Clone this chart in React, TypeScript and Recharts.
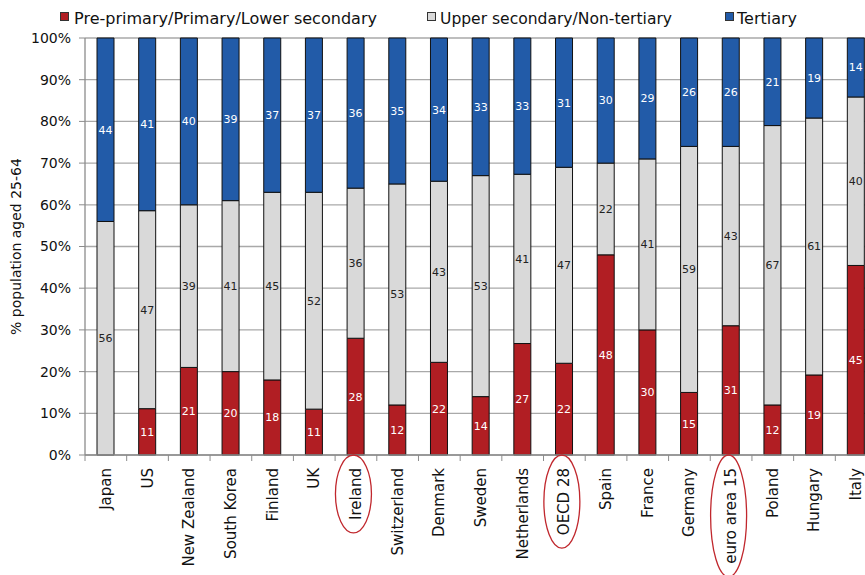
import React from 'react';
import { BarChart, Bar, XAxis, YAxis, CartesianGrid, Legend, LabelList } from 'recharts';

// ---------- data ----------
const countries = [
  'Japan', 'US', 'New Zealand', 'South Korea', 'Finland', 'UK', 'Ireland', 'Switzerland',
  'Denmark', 'Sweden', 'Netherlands', 'OECD 28', 'Spain', 'France', 'Germany',
  'euro area 15', 'Poland', 'Hungary', 'Italy',
];
const lowerSecondary = [0, 11, 21, 20, 18, 11, 28, 12, 22, 14, 27, 22, 48, 30, 15, 31, 12, 19, 45];
const upperSecondary = [56, 47, 39, 41, 45, 52, 36, 53, 43, 53, 41, 47, 22, 41, 59, 43, 67, 61, 40];
const tertiary = [44, 41, 40, 39, 37, 37, 36, 35, 34, 33, 33, 31, 30, 29, 26, 26, 21, 19, 14];
const seriesNames = ['Pre-primary/Primary/Lower secondary', 'Upper secondary/Non-tertiary', 'Tertiary'];
const highlighted = ['Ireland', 'OECD 28', 'euro area 15'];
const yTicks = [0, 0.1, 0.2, 0.3, 0.4, 0.5, 0.6, 0.7, 0.8, 0.9, 1];
const yAxisTitle = '% population  aged 25-64';

const data = countries.map((c, i) => ({
  country: c,
  low: lowerSecondary[i],
  mid: upperSecondary[i],
  high: tertiary[i],
}));

// ---------- layout / style ----------
const FONT = "'DejaVu Sans', Verdana, sans-serif";
const W = 882;
const H = 575;
const Y_AXIS_W = 85;
const RIGHT = 5;
const TOP = 38;
const X_AXIS_H = 120;
const BAND = (W - Y_AXIS_W - RIGHT) / countries.length;
const RED = '#B11E23';
const GRAY = '#D9D9D9';
const BLUE = '#225BA8';
const AXIS = '#8c8c8c';

const legendLayout = [
  { color: RED, box: 60, textX: 74, len: 303 },
  { color: GRAY, box: 427, textX: 440, len: 232 },
  { color: BLUE, box: 725, textX: 737, len: 60 },
];

let measureCtx: CanvasRenderingContext2D | null = null;
const measure = (s: string, font: string) => {
  if (!measureCtx) measureCtx = document.createElement('canvas').getContext('2d');
  if (!measureCtx) return s.length * 8;
  measureCtx.font = font;
  return measureCtx.measureText(s).width;
};

const XTick = (props: any) => {
  const { x, y, payload, index } = props;
  const label = String(payload.value);
  const len = measure(label, `15px 'DejaVu Sans'`);
  const top = 13;
  return (
    <g>
      <line x1={x - BAND / 2} x2={x - BAND / 2} y1={y} y2={y + 6} stroke={AXIS} strokeWidth={1} />
      {index === countries.length - 1 && (
        <line x1={x + BAND / 2} x2={x + BAND / 2} y1={y} y2={y + 6} stroke={AXIS} strokeWidth={1} />
      )}
      <text
        transform={`translate(${x + 5},${y + top}) rotate(-90)`}
        textAnchor="end"
        fontSize={15}
        fontFamily={FONT}
        fill="#111"
      >
        {label}
      </text>
      {highlighted.includes(label) && (
        <ellipse
          cx={x - 2.5}
          cy={y + top + len / 2}
          rx={18}
          ry={len / 2 + 13}
          fill="none"
          stroke="#C0272D"
          strokeWidth={1.3}
        />
      )}
    </g>
  );
};

const LegendContent = () => (
  <svg width={865} height={32} style={{ display: 'block' }}>
    {legendLayout.map((l, i) => (
      <g key={seriesNames[i]}>
        <rect x={l.box + 0.5} y={12.5} width={8} height={8} fill={l.color} stroke="#333" strokeWidth={1} />
        <text
          x={l.textX}
          y={24}
          fontSize={16}
          fontFamily={FONT}
          fill="#111"
          textLength={l.len}
          lengthAdjust="spacingAndGlyphs"
        >
          {seriesNames[i]}
        </text>
      </g>
    ))}
  </svg>
);

const YTitle = () => (
  <text
    transform={`translate(21,${TOP + (H - X_AXIS_H - TOP) / 2}) rotate(-90)`}
    textAnchor="middle"
    fontSize={14}
    fontFamily={FONT}
    fill="#111"
  >
    {yAxisTitle}
  </text>
);

const fmtLabel = (v: any) => (v ? v : '');

export default function App() {
  return (
    <div
      style={{
        position: 'fixed',
        left: 0,
        top: 0,
        width: 865,
        height: 575,
        overflow: 'hidden',
        background: '#fff',
      }}
    >
      <BarChart
        width={W}
        height={H}
        data={data}
        stackOffset="expand"
        barSize={17}
        margin={{ top: TOP, right: RIGHT, bottom: 0, left: 0 }}
      >
        <CartesianGrid vertical={false} stroke="#a9a9a9" strokeWidth={1.3} />
        <XAxis
          dataKey="country"
          interval={0}
          height={X_AXIS_H}
          tickLine={false}
          tickSize={0}
          tickMargin={0}
          axisLine={{ stroke: AXIS, strokeWidth: 1.3 }}
          tick={<XTick />}
        />
        <YAxis
          width={Y_AXIS_W}
          domain={[0, 1]}
          ticks={yTicks}
          interval={0}
          tickFormatter={(v: number) => `${Math.round(v * 100)}%`}
          tickSize={6}
          tickMargin={8}
          tickLine={{ stroke: AXIS }}
          axisLine={{ stroke: AXIS, strokeWidth: 1.3 }}
          tick={{ fontSize: 14, fontFamily: FONT, fill: '#111' }}
          label={<YTitle />}
        />
        <Legend
          verticalAlign="middle"
          align="center"
          layout="horizontal"
          wrapperStyle={{ top: 0, left: 0, width: 865, height: 32 }}
          content={<LegendContent />}
        />
        <Bar dataKey="low" name={seriesNames[0]} stackId="a" fill={RED} stroke="#111" strokeWidth={1} isAnimationActive={false}>
          <LabelList dataKey="low" position="center" formatter={fmtLabel} fill="#fff" fontSize={11} fontFamily={FONT} />
        </Bar>
        <Bar dataKey="mid" name={seriesNames[1]} stackId="a" fill={GRAY} stroke="#111" strokeWidth={1} isAnimationActive={false}>
          <LabelList dataKey="mid" position="center" formatter={fmtLabel} fill="#222" fontSize={11} fontFamily={FONT} />
        </Bar>
        <Bar dataKey="high" name={seriesNames[2]} stackId="a" fill={BLUE} stroke="#111" strokeWidth={1} isAnimationActive={false}>
          <LabelList dataKey="high" position="center" formatter={fmtLabel} fill="#fff" fontSize={11} fontFamily={FONT} />
        </Bar>
      </BarChart>
    </div>
  );
}
